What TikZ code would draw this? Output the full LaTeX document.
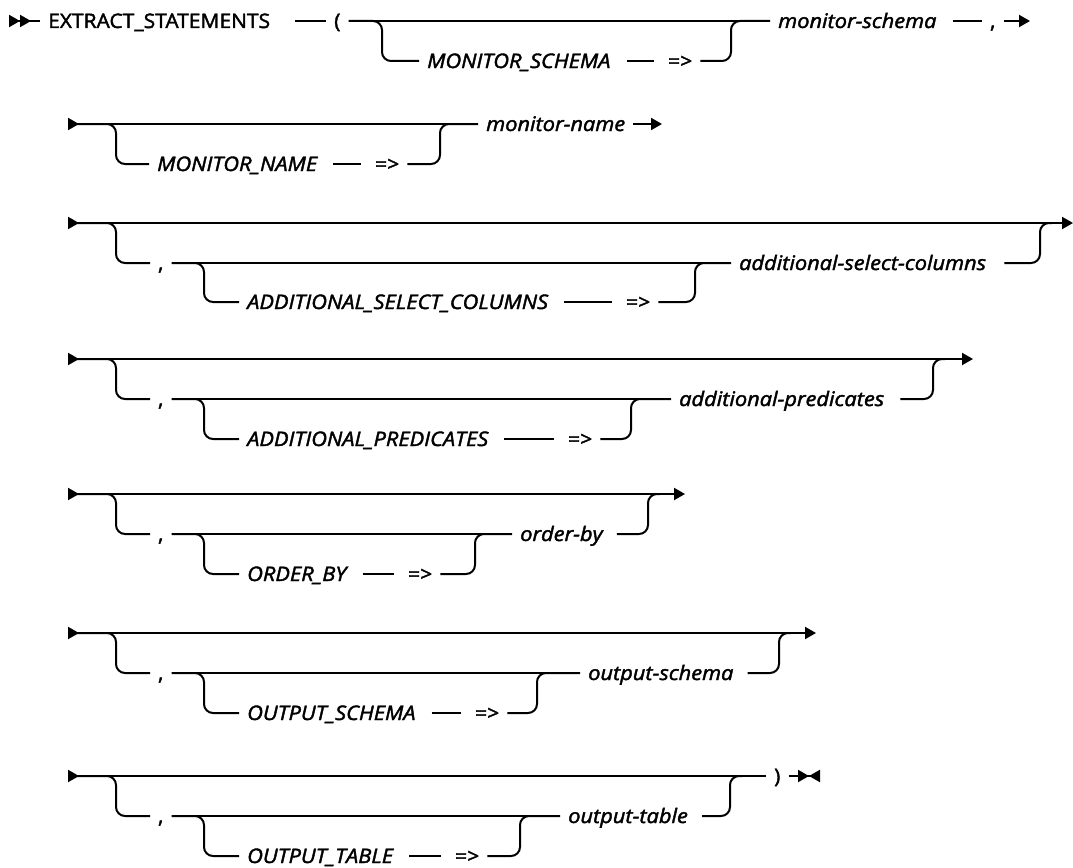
\documentclass[tikz,border=0pt]{standalone}
\usepackage{fontspec}
\setmainfont{Open Sans}[FakeStretch=1.05,FakeBold=2,ItalicFeatures={FakeStretch=1.09}]
\usetikzlibrary{arrows.meta,positioning}
\tikzset{
  rail/.style={line width=2pt,rounded corners=9pt},
  lit/.style={anchor=west,inner xsep=8pt,inner ysep=0pt,text height=14pt,text depth=0pt,
    font=\fontsize{20}{24}\selectfont},
  kw/.style={lit,font=\fontsize{20}{24}\selectfont\itshape},
  gapped/.style={shorten <=8pt,shorten >=6pt},
  railin/.style={{Triangle[reversed,length=11pt,width=12pt]}-},
  railout/.style={-{Triangle[length=11pt,width=12pt]}},
  railboth/.style={{Triangle[reversed,length=11pt,width=12pt]}-{Triangle[length=11pt,width=12pt]}},
}

\begin{document}
\begin{tikzpicture}[x=1pt,y=-1pt]
  \useasboundingbox (0,0) rectangle (1073,867);
  % first line
  \coordinate (s1) at (9,21);
  \node[lit] (st) at (40,21) {EXTRACT\_STATEMENTS};
  \node[lit] (lp) at (326,21) {(};
  \node[kw] (kw1) at (419,61) {MONITOR\_SCHEMA};
  \node[lit] (eq1) at (660,61) {=>};
  \node[kw] (val1) at (770,21) {monitor-schema};
  \node[lit] (cm1) at (982,21) {,};
  \coordinate (e1) at (1030,21);
  \draw[rail,{Triangle[reversed,length=11pt,width=12pt]Triangle[reversed,length=11pt,width=12pt]}-] (s1) -- (st.west);
  \draw[rail,shorten <=17pt] (st) -- (lp);
  \draw[rail] (lp.east) -- (val1.west);
  \draw[rail] (lp.east) -- (382,21) -- (382,61) -- (kw1.west);
  \draw[rail,gapped] (kw1) -- (eq1);
  \draw[rail] (eq1.east) -- (731,61) -- (731,21) -- (val1.west);
  \draw[rail,shorten <=8pt] (val1) -- (cm1);
  \draw[rail,railout] (cm1.east) -- (e1);

  \coordinate (s2) at (68,124);
  \node[kw] (kw2) at (149,164) {MONITOR\_NAME};
  \node[lit] (eq2) at (367,164) {=>};
  \node[kw] (val2) at (478,124) {monitor-name};
  \coordinate (e2) at (662,124);
  \draw[rail,railin] (s2) -- (val2.west);
  \draw[rail] (s2) -- (116,124) -- (116,164) -- (kw2.west);
  \draw[rail,gapped] (kw2) -- (eq2);
  \draw[rail] (eq2.east) -- (440,164) -- (440,124) -- (val2.west);
  \draw[rail,railout] (val2.east) -- (e2);

  \coordinate (s3) at (68,223);
  \node[lit] (cm3) at (150,263) {,};
  \node[kw] (kw3) at (239,302) {ADDITIONAL\_SELECT\_COLUMNS};
  \node[lit] (eq3) at (618,302) {=>};
  \node[kw] (val3) at (731,263) {additional-select-columns};
  \coordinate (e3) at (1073,223);
  \draw[rail,railboth] (s3) -- (e3);
  \draw[rail] (s3) -- (116,223) -- (116,263) -- (cm3.west);
  \draw[rail] (cm3.east) -- (val3.west);
  \draw[rail] (cm3.east) -- (204,263) -- (204,302) -- (kw3.west);
  \draw[rail,gapped] (kw3) -- (eq3);
  \draw[rail] (eq3.east) -- (695,302) -- (695,263) -- (val3.west);
  \draw[rail,shorten <=10pt] (val3.east) -- (1040,263) -- (1040,223) -- ++(12,0);

  \coordinate (s4) at (68,359);
  \node[lit] (cm4) at (150,399) {,};
  \node[kw] (kw4) at (239,439) {ADDITIONAL\_PREDICATES};
  \node[lit] (eq4) at (560,439) {=>};
  \node[kw] (val4) at (671,399) {additional-predicates};
  \coordinate (e4) at (973,359);
  \draw[rail,railboth] (s4) -- (e4);
  \draw[rail] (s4) -- (116,359) -- (116,399) -- (cm4.west);
  \draw[rail] (cm4.east) -- (val4.west);
  \draw[rail] (cm4.east) -- (204,399) -- (204,439) -- (kw4.west);
  \draw[rail,gapped] (kw4) -- (eq4);
  \draw[rail] (eq4.east) -- (631,439) -- (631,399) -- (val4.west);
  \draw[rail,shorten <=8pt] (val4.east) -- (933,399) -- (933,359) -- ++(12,0);

  \coordinate (s5) at (68,494);
  \node[lit] (cm5) at (150,534) {,};
  \node[kw] (kw5) at (239,574) {ORDER\_BY};
  \node[lit] (eq5) at (400,574) {=>};
  \node[kw] (val5) at (512,534) {order-by};
  \coordinate (e5) at (685,494);
  \draw[rail,railboth] (s5) -- (e5);
  \draw[rail] (s5) -- (116,494) -- (116,534) -- (cm5.west);
  \draw[rail] (cm5.east) -- (val5.west);
  \draw[rail] (cm5.east) -- (204,534) -- (204,574) -- (kw5.west);
  \draw[rail,gapped] (kw5) -- (eq5);
  \draw[rail] (eq5.east) -- (475,574) -- (475,534) -- (val5.west);
  \draw[rail,shorten <=6pt] (val5.east) -- (648,534) -- (648,494) -- ++(12,0);

  \coordinate (s6) at (68,633);
  \node[lit] (cm6) at (150,673) {,};
  \node[kw] (kw6) at (239,713) {OUTPUT\_SCHEMA};
  \node[lit] (eq6) at (467,713) {=>};
  \node[kw] (val6) at (580,673) {output-schema};
  \coordinate (e6) at (816,633);
  \draw[rail,railboth] (s6) -- (e6);
  \draw[rail] (s6) -- (116,633) -- (116,673) -- (cm6.west);
  \draw[rail] (cm6.east) -- (val6.west);
  \draw[rail] (cm6.east) -- (204,673) -- (204,713) -- (kw6.west);
  \draw[rail,gapped] (kw6) -- (eq6);
  \draw[rail] (eq6.east) -- (537,713) -- (537,673) -- (val6.west);
  \draw[rail,shorten <=6pt] (val6.east) -- (779,673) -- (779,633) -- ++(12,0);

  \coordinate (s7) at (68,776);
  \node[lit] (cm7) at (150,816) {,};
  \node[kw] (kw7) at (239,856) {OUTPUT\_TABLE};
  \node[lit] (eq7) at (447,856) {=>};
  \node[kw] (val7) at (560,816) {output-table};
  \node[lit] (rp) at (766,776) {)};
  \coordinate (e7) at (820,776);
  \draw[rail,railin] (s7) -- (rp.west);
  \draw[rail] (s7) -- (116,776) -- (116,816) -- (cm7.west);
  \draw[rail] (cm7.east) -- (val7.west);
  \draw[rail] (cm7.east) -- (204,816) -- (204,856) -- (kw7.west);
  \draw[rail,gapped] (kw7) -- (eq7);
  \draw[rail] (eq7.east) -- (520,856) -- (520,816) -- (val7.west);
  \draw[rail,shorten <=6pt] (val7.east) -- (730,816) -- (730,776) -- ++(12,0);
  \draw[rail,-{Triangle[length=11pt,width=12pt]Triangle[reversed,length=11pt,width=12pt]}] (rp.east) -- (e7);
\end{tikzpicture}
\end{document}
